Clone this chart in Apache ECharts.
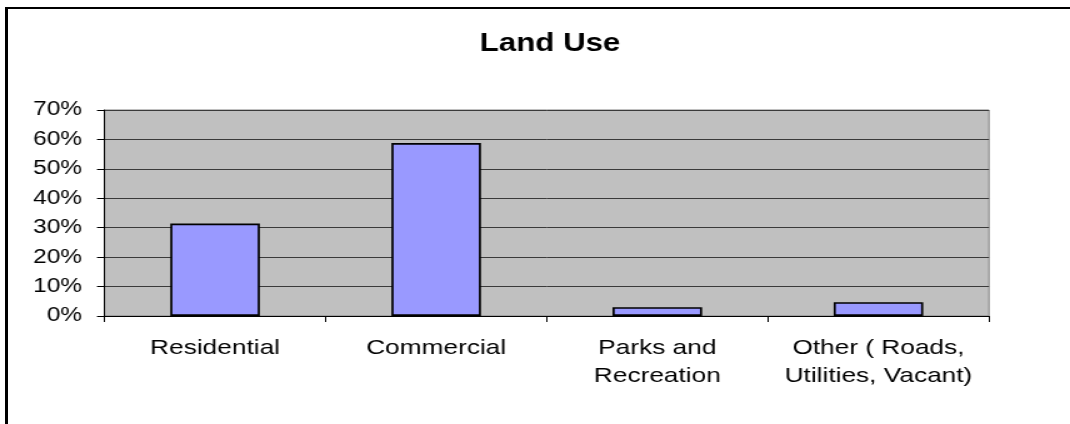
<!DOCTYPE html>
<html>
<head>
<meta charset="utf-8">
<script src="https://cdn.jsdelivr.net/npm/echarts@6/dist/echarts.min.js"></script>
<style>
  html, body { margin: 0; padding: 0; background: #fff; overflow: hidden; }
  #frame {
    position: absolute; left: 5px; top: 7px; width: 2000px; height: 2000px;
    border-top: 2px solid #000; border-left: 3px solid #000; box-sizing: border-box;
  }
  /* the chart is laid out narrower and widened to its final 1070px width */
  #chart {
    position: absolute; left: 0; top: 0; width: 856px; height: 424px;
    transform: scaleX(1.25); transform-origin: 0 0;
  }
</style>
</head>
<body>
<div id="frame"></div>
<div id="chart"></div>
<script>
const chartTitle = 'Land Use';
const categories = ['Residential', 'Commercial', 'Parks and\nRecreation', 'Other ( Roads,\nUtilities, Vacant)'];
const shares = [0.314, 0.588, 0.03, 0.047];
const yMin = 0;
const yMax = 0.7;
const yStep = 0.1;

const font = '"Liberation Sans", Arial, sans-serif';
const chart = echarts.init(document.getElementById('chart'), null, { renderer: 'canvas' });

chart.setOption({
  animation: false,
  backgroundColor: 'transparent',
  title: {
    text: chartTitle,
    left: 435,
    top: 27,
    textAlign: 'center',
    textStyle: { fontFamily: font, fontSize: 25, fontWeight: 'bold', color: '#000' }
  },
  grid: {
    left: 83.6, right: 64.8, top: 110, bottom: 108,
    show: true, backgroundColor: '#C0C0C0', borderColor: '#808080', borderWidth: 1
  },
  xAxis: {
    type: 'category',
    data: categories,
    axisLine: { lineStyle: { color: '#000', width: 1 } },
    axisTick: { show: true, length: 6, inside: false, lineStyle: { color: '#000' } },
    axisLabel: {
      interval: 0, margin: 18, color: '#000',
      fontFamily: font, fontSize: 21, lineHeight: 28
    },
    splitLine: { show: false }
  },
  yAxis: {
    type: 'value',
    min: yMin, max: yMax, interval: yStep,
    axisLine: { show: true, lineStyle: { color: '#000', width: 1 } },
    axisTick: { show: true, length: 6, lineStyle: { color: '#000' } },
    axisLabel: {
      margin: 18, color: '#000', fontFamily: font, fontSize: 19.5,
      formatter: v => Math.round(v * 100) + '%'
    },
    splitLine: { show: true, lineStyle: { color: '#3a3a3a', width: 1 } }
  },
  series: [{
    type: 'bar',
    data: shares,
    barWidth: '40.5%',
    itemStyle: { color: '#9999FF', borderColor: '#000', borderWidth: 1.7 }
  }]
});
</script>
</body>
</html>
